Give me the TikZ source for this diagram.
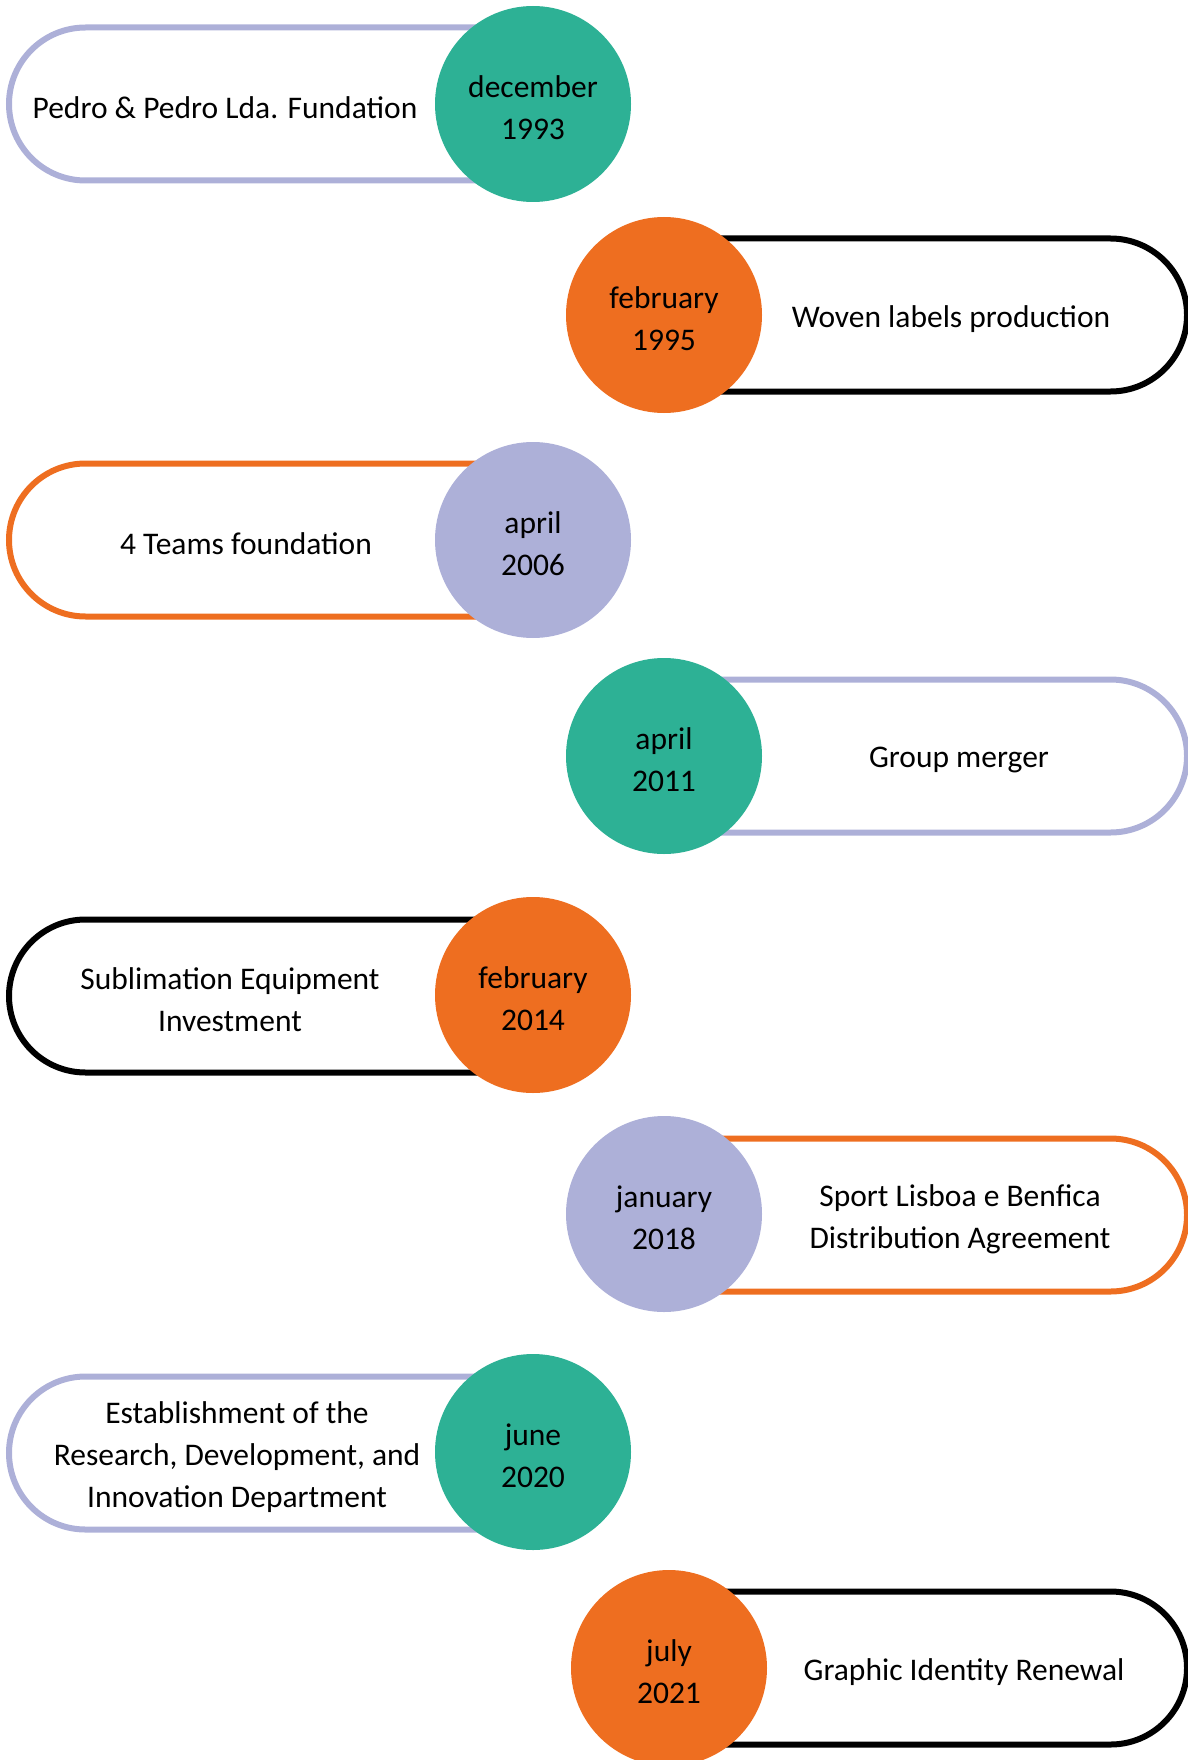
\documentclass[tikz,border=0pt]{standalone}
\usepackage{fontspec}
\setmainfont{Carlito}
\usetikzlibrary{shapes.misc}

\definecolor{tealdot}{RGB}{45,177,149}
\definecolor{orangedot}{RGB}{238,110,32}
\definecolor{lavender}{RGB}{173,176,216}

\begin{document}
\begin{tikzpicture}[x=1pt, y=1pt,
  datecirc/.style={circle, minimum size=196pt, inner sep=0pt},
  pillleft/.style={rounded rectangle, rounded rectangle right arc=none, draw, line width=6pt, minimum width=524pt, minimum height=153pt, inner sep=0pt},
  pillright/.style={rounded rectangle, rounded rectangle left arc=none, draw, line width=6pt, minimum width=523pt, minimum height=153pt, inner sep=0pt},
  desc/.style={align=center, yshift=-4pt, font=\fontsize{31.5}{42}\selectfont}]

  \useasboundingbox (0,0) rectangle (1187,-1760);

  % Pills
  \node[pillleft, draw=lavender] (p1) at (271,-104) {};
  \node[pillright, draw=black] (p2) at (925.5,-315) {};
  \node[pillleft, draw=orangedot] (p3) at (271,-540) {};
  \node[pillright, draw=lavender] (p4) at (925.5,-756) {};
  \node[pillleft, draw=black] (p5) at (271,-996) {};
  \node[pillright, draw=orangedot] (p6) at (925.5,-1215) {};
  \node[pillleft, draw=lavender] (p7) at (271,-1453) {};
  \node[pillright, draw=black, minimum width=518pt] (p8) at (928,-1668) {};

  % Date circles
  \node[datecirc, fill=tealdot] (d1) at (533,-104) {};
  \node[datecirc, fill=orangedot] (d2) at (664,-315) {};
  \node[datecirc, fill=lavender] (d3) at (533,-540) {};
  \node[datecirc, fill=tealdot] (d4) at (664,-756) {};
  \node[datecirc, fill=orangedot] (d5) at (533,-995) {};
  \node[datecirc, fill=lavender] (d6) at (664,-1214) {};
  \node[datecirc, fill=tealdot] (d7) at (533,-1452) {};
  \node[datecirc, fill=orangedot] (d8) at (669,-1668) {};

  % Dates
  \node[desc] (m1) at (d1) {december\\1993};
  \node[desc] (m2) at (d2) {february\\1995};
  \node[desc] (m3) at (d3) {april\\2006};
  \node[desc] (m4) at (d4) {april\\2011};
  \node[desc] (m5) at (d5) {february\\2014};
  \node[desc] (m6) at (d6) {january\\2018};
  \node[desc] (m7) at (d7) {june\\2020};
  \node[desc] (m8) at (d8) {july\\2021};

  % Descriptions
  \node[desc] (t1) at (225,-104) {Pedro \& Pedro Lda. Fundation};
  \node[desc] (t2) at (951,-315) {Woven labels production};
  \node[desc] (t3) at (246,-540) {4 Teams foundation};
  \node[desc] (t4) at (959,-756) {Group merger};
  \node[desc] (t5) at (230,-996) {Sublimation Equipment\\Investment};
  \node[desc] (t6) at (960,-1215) {Sport Lisboa e Benfica\\Distribution Agreement};
  \node[desc] (t7) at (237,-1453) {Establishment of the\\Research, Development, and\\Innovation Department};
  \node[desc] (t8) at (964,-1668) {Graphic Identity Renewal};

\end{tikzpicture}
\end{document}
